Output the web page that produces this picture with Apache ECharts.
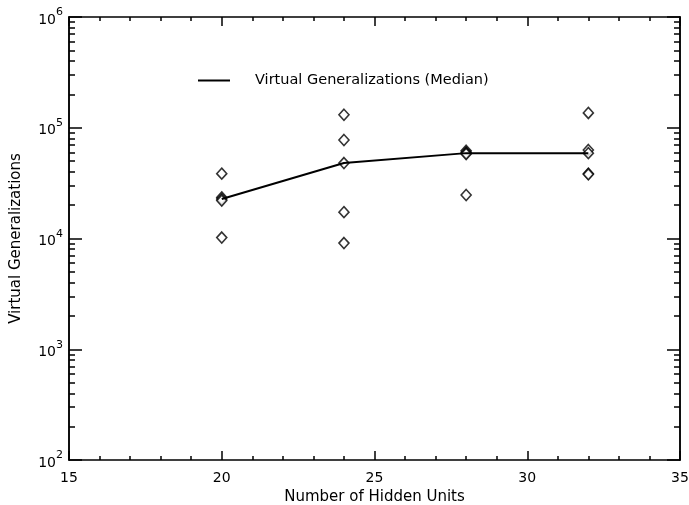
<!DOCTYPE html>
<html>
<head>
<meta charset="utf-8">
<script src="https://cdn.jsdelivr.net/npm/echarts@6/dist/echarts.min.js"></script>
<style>
html,body{margin:0;padding:0;background:#fff;}
#chart{width:689px;height:505px;}
</style>
</head>
<body>
<div id="chart"></div>
<script>
// Data
var hiddenUnits = [20, 24, 28, 32];
var runs20 = [38500, 23500, 22700, 22000, 10200];
var runs24 = [131000, 77500, 48000, 17300, 9100];
var runs28 = [62000, 60000, 59000, 58000, 24700];
var runs32 = [136000, 63000, 59000, 38500, 38000];
var medians = [22700, 48000, 59000, 59000];

var xTicks = [15, 20, 25, 30, 35];
var yMajorTicks = [100, 1000, 10000, 100000, 1000000];
var yMinorTicks = [200, 300, 400, 500, 600, 700, 800, 900,
  2000, 3000, 4000, 5000, 6000, 7000, 8000, 9000,
  20000, 30000, 40000, 50000, 60000, 70000, 80000, 90000,
  200000, 300000, 400000, 500000, 600000, 700000, 800000, 900000];

var seriesName = 'Virtual Generalizations (Median)';
var FONT = 'DejaVu Sans';

var allRuns = [runs20, runs24, runs28, runs32];
var scatterData = [];
allRuns.forEach(function (arr, i) {
  arr.forEach(function (v) { scatterData.push([hiddenUnits[i], v]); });
});
var lineData = hiddenUnits.map(function (x, i) { return [x, medians[i]]; });

var axisLineStyle = { color: '#000', width: 1.5 };

function yAxisBase(pos) {
  return {
    type: 'log', logBase: 10, min: 100, max: 1000000, position: pos,
    gridIndex: 0, splitLine: { show: false },
    axisLine: { show: true, lineStyle: axisLineStyle },
    axisTick: { show: true, inside: true, length: 13, lineStyle: axisLineStyle, customValues: yMajorTicks },
    axisLabel: { show: false }
  };
}
function yAxisMinor(pos) {
  return {
    type: 'log', logBase: 10, min: 100, max: 1000000, position: pos,
    splitLine: { show: false },
    axisLine: { show: true, lineStyle: axisLineStyle },
    axisTick: { show: true, inside: true, length: 6, lineStyle: axisLineStyle, customValues: yMinorTicks },
    axisLabel: { show: false }
  };
}

var yLeft = yAxisBase('left');
yLeft.axisLabel = {
  show: true, margin: 6, customValues: yMajorTicks,
  formatter: function (v) {
    return '{b|10}{s|' + Math.round(Math.log(v) / Math.LN10) + '}';
  },
  rich: {
    b: { fontFamily: FONT, fontSize: 14, color: '#000', lineHeight: 20, verticalAlign: 'bottom' },
    s: { fontFamily: FONT, fontSize: 11, color: '#000', lineHeight: 20, verticalAlign: 'top' }
  }
};
yLeft.name = 'Virtual Generalizations';
yLeft.nameLocation = 'middle';
yLeft.nameGap = 45;
yLeft.nameTextStyle = { fontFamily: FONT, fontSize: 15, color: '#000' };

function xAxisBase(pos) {
  return {
    type: 'value', min: 15, max: 35, interval: 5, position: pos,
    splitLine: { show: false },
    axisLine: { show: true, onZero: false, lineStyle: axisLineStyle },
    axisTick: { show: true, inside: true, length: 9, lineStyle: axisLineStyle },
    minorTick: { show: true, splitNumber: 5, length: 4, lineStyle: { color: '#000', width: 1.5 } },
    minorSplitLine: { show: false },
    axisLabel: { show: false }
  };
}
var xBottom = xAxisBase('bottom');
xBottom.axisLabel = { show: true, margin: 11, fontFamily: FONT, fontSize: 14, color: '#000',
  customValues: xTicks };
xBottom.name = 'Number of Hidden Units';
xBottom.nameLocation = 'middle';
xBottom.nameGap = 24;
xBottom.nameTextStyle = { fontFamily: FONT, fontSize: 15, color: '#000' };
var xTop = xAxisBase('top');

var chart = echarts.init(document.getElementById('chart'), null, { renderer: 'canvas' });
chart.setOption({
  backgroundColor: '#fff',
  animation: false,
  grid: { left: 69, right: 9, top: 17, bottom: 45, containLabel: false, outerBoundsMode: 'none' },
  legend: {
    left: 193, top: 68,
    data: [{ name: seriesName, icon: 'rect' }],
    itemWidth: 32, itemHeight: 2,
    formatter: function (n) { return '{t|' + n + '}'; },
    textStyle: {
      rich: { t: { fontFamily: FONT, fontSize: 14.5, color: '#000', padding: [0, 0, 0, 20] } }
    }
  },
  xAxis: [xBottom, xTop],
  yAxis: [yLeft, yAxisMinor('left'), yAxisBase('right'), yAxisMinor('right')],
  series: [
    {
      type: 'scatter', name: 'runs', xAxisIndex: 0, yAxisIndex: 0,
      data: scatterData, symbol: 'diamond', symbolSize: [10, 11],
      itemStyle: { color: '#fff', borderColor: '#000', borderWidth: 1.6 },
      z: 2
    },
    {
      type: 'line', name: seriesName, xAxisIndex: 0, yAxisIndex: 0,
      data: lineData, showSymbol: false, symbol: 'none',
      lineStyle: { color: '#000', width: 2 },
      itemStyle: { color: '#000' },
      z: 3
    }
  ]
});
</script>
</body>
</html>
